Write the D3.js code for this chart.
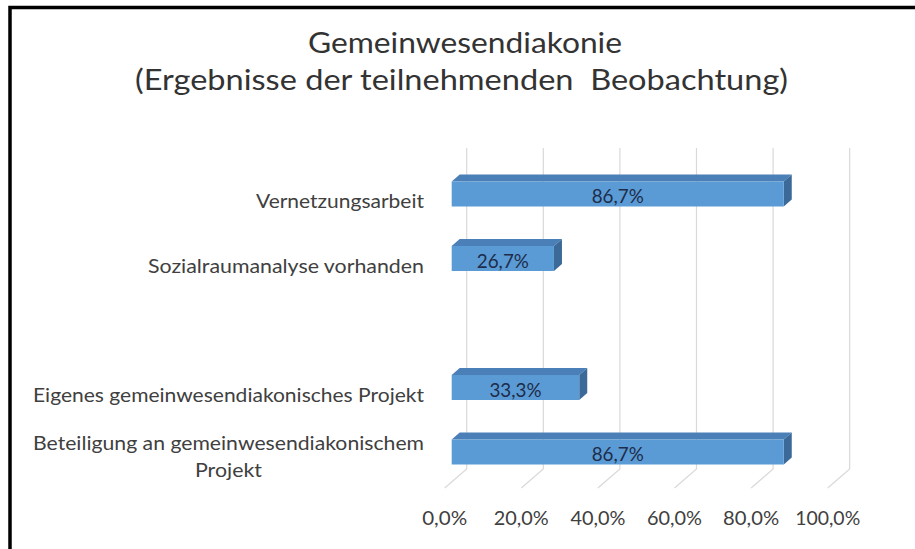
<!DOCTYPE html>
<html>
<head>
<meta charset="utf-8">
<script src="https://cdn.jsdelivr.net/npm/d3@7"></script>
<style>
  html, body { margin: 0; padding: 0; background: #fff; }
  svg { display: block; }
</style>
</head>
<body>
<div id="chart"></div>
<script>
// data (blank row kept as a gap)
const categories = [
    "Vernetzungsarbeit",
    "Sozialraumanalyse vorhanden",
    "",
    "Eigenes gemeinwesendiakonisches Projekt",
    "Beteiligung an gemeinwesendiakonischem Projekt"
];
const values = [86.7, 26.7, null, 33.3, 86.7];
const ticks = [0, 20, 40, 60, 80, 100];
const titleLines = ["Gemeinwesendiakonie", "(Ergebnisse der teilnehmenden  Beobachtung)"];

const width = 915;
const height = 549;

const svg = d3.select("#chart")
    .append("svg")
    .attr("width", width)
    .attr("height", height)
    .style("font-family", "Lato, 'Open Sans', sans-serif");

svg.append("rect").attr("width", width).attr("height", height).attr("fill", "#fff");

// frame (only top and left are in view)
svg.append("path")
    .attr("d", "M10,549 V7.5 H915")
    .attr("fill", "none")
    .attr("stroke", "#000")
    .attr("stroke-width", 3.5);

// title
const titleWidths = [314, 653];
svg.append("g")
    .selectAll("text")
    .data(titleLines)
    .join("text")
    .attr("x", (d, i) => i === 0 ? 465 : 461.5)
    .attr("y", (d, i) => 53 + i * 37)
    .attr("text-anchor", "middle")
    .attr("font-size", 28)
    .attr("fill", "#333")
    .attr("textLength", (d, i) => titleWidths[i])
    .attr("lengthAdjust", "spacingAndGlyphs")
    .style("white-space", "pre")
    .text(d => d);

// scales: x for the bars' front face
const xScale = d3.scaleLinear().domain([0, 100]).range([451.7, 834.7]);
const yScale = d3.scaleBand().domain(categories).range([161.75, 484.25]);

const backDx = 15;      // back wall offset from bar front
const floorDx = -7;     // floor front edge offset
const gridTop = 148, gridBottom = 469, floorBottom = 488;

// gridlines: back wall + floor diagonals
const grid = svg.append("g").attr("stroke", "#d9d9d9").attr("stroke-width", 1.2).attr("fill", "none");
grid.selectAll("path")
    .data(ticks)
    .join("path")
    .attr("d", d => `M${xScale(d) + backDx},${gridTop} V${gridBottom} L${xScale(d) + floorDx},${floorBottom}`);

// tick labels
const tickWidths = [45, 55, 55, 55, 56, 65];
svg.append("g")
    .selectAll("text")
    .data(ticks)
    .join("text")
    .attr("x", d => xScale(d) + floorDx)
    .attr("y", 525)
    .attr("text-anchor", "middle")
    .attr("font-size", 19)
    .attr("fill", "#404040")
    .attr("textLength", (d, i) => tickWidths[i])
    .attr("lengthAdjust", "spacingAndGlyphs")
    .text(d => d3.format(".1f")(d).replace(".", ",") + "%");

// 3D bars
const barH = 25, dx = 8, dy = 7;
const rows = categories.map((c, i) => ({ cat: c, value: values[i] })).filter(d => d.value != null);
const bars = svg.append("g").selectAll("g").data(rows).join("g");

bars.each(function (d) {
    const g = d3.select(this);
    const cy = yScale(d.cat) + yScale.bandwidth() / 2;
    const yt = cy - barH / 2, yb = cy + barH / 2;
    const x0 = xScale(0), x1 = xScale(d.value);
    g.append("path")
        .attr("d", `M${x0},${yt} L${x0 + dx},${yt - dy} L${x1 + dx},${yt - dy} L${x1},${yt} Z`)
        .attr("fill", "#4a7fb8");
    g.append("path")
        .attr("d", `M${x1},${yt} L${x1 + dx},${yt - dy} L${x1 + dx},${yb - dy} L${x1},${yb} Z`)
        .attr("fill", "#3c6a98");
    g.append("rect")
        .attr("x", x0).attr("y", yt)
        .attr("width", x1 - x0).attr("height", barH)
        .attr("fill", "#5b9bd5");
    g.append("text")
        .attr("x", (x0 + x1) / 2)
        .attr("y", cy + 9)
        .attr("text-anchor", "middle")
        .attr("font-size", 20)
        .attr("fill", "#1d2c4a")
        .attr("textLength", 52)
        .attr("lengthAdjust", "spacingAndGlyphs")
        .text(d3.format(".1f")(d.value).replace(".", ",") + "%");
});

// category labels (last one wraps over two lines)
const labelLines = {
    "Vernetzungsarbeit": [["Vernetzungsarbeit", 168]],
    "Sozialraumanalyse vorhanden": [["Sozialraumanalyse vorhanden", 276]],
    "Eigenes gemeinwesendiakonisches Projekt": [["Eigenes gemeinwesendiakonisches Projekt", 391]],
    "Beteiligung an gemeinwesendiakonischem Projekt": [["Beteiligung an gemeinwesendiakonischem", 391], ["Projekt", 67]]
};
const labels = svg.append("g").attr("font-size", 19).attr("fill", "#404040");
categories.filter(c => c).forEach(c => {
    const cy = yScale(c) + yScale.bandwidth() / 2;
    const lines = labelLines[c];
    lines.forEach(([txt, w], i) => {
        const multi = lines.length > 1;
        labels.append("text")
            .attr("x", multi ? 424 - 391 / 2 : 424)
            .attr("y", multi ? cy - 2 + i * 27 : cy + 14)
            .attr("text-anchor", multi ? "middle" : "end")
            .attr("textLength", w)
            .attr("lengthAdjust", "spacingAndGlyphs")
            .text(txt);
    });
});
</script>
</body>
</html>
